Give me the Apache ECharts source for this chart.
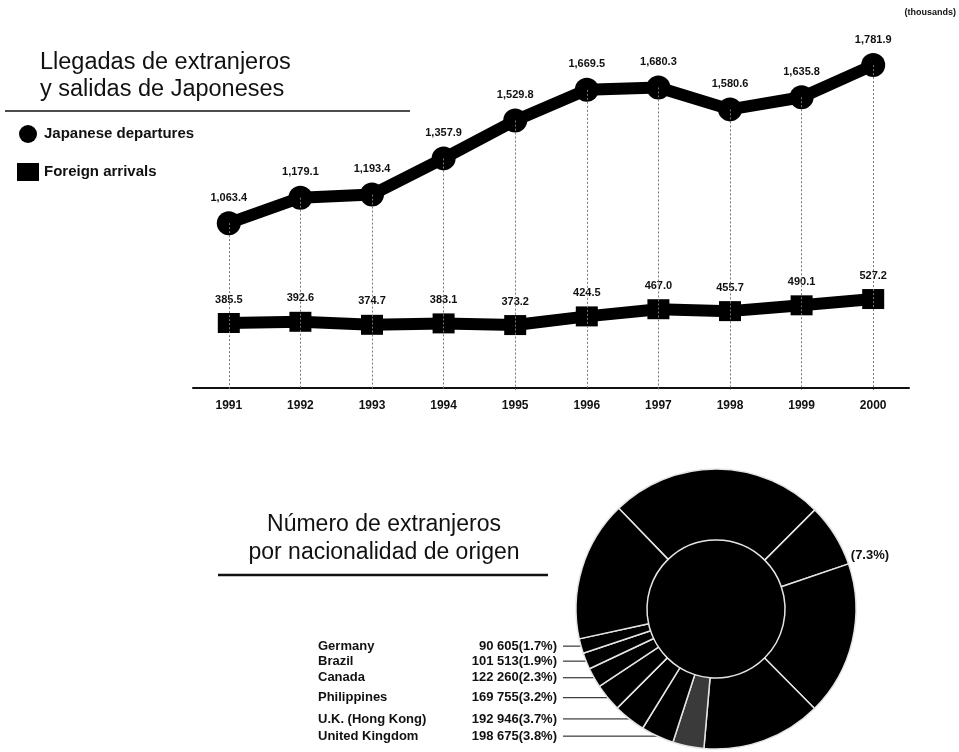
<!DOCTYPE html>
<html>
<head>
  <meta charset="utf-8">
  <title>Llegadas de extranjeros y salidas de Japoneses</title>
  <script src="https://cdn.jsdelivr.net/npm/echarts@6/dist/echarts.min.js"></script>
  <style>
    body { margin: 0; background: #fff; }
    #main { width: 959px; height: 752px; }
  </style>
</head>
<body>
  <div id="main"></div>
  <script>
    // line chart data (thousands)
    var years = ['1991', '1992', '1993', '1994', '1995', '1996', '1997', '1998', '1999', '2000'];
    var departures = [1063.4, 1179.1, 1193.4, 1357.9, 1529.8, 1669.5, 1680.3, 1580.6, 1635.8, 1781.9];
    var arrivals = [385.5, 392.6, 374.7, 383.1, 373.2, 424.5, 467.0, 455.7, 490.1, 527.2];

    // donut data, clockwise from the upper-left separator
    var pieNames = ['s1', 's2', 's3', 's4', 's5', 'United Kingdom', 'U.K. (Hong Kong)', 'Philippines', 'Canada', 'Brazil', 'Germany', 's12'];
    var piePct = [24.7, 7.3, 17.8, 13.8, 3.6, 3.8, 3.7, 3.2, 2.3, 1.9, 1.7, 16.2];
    var pieCounts = [null, null, null, null, null, 198675, 192946, 169755, 122260, 101513, 90605, null];

    var font = '"Liberation Sans", Arial, Helvetica, sans-serif';

    function fmtComma(v) {
      var s = v.toFixed(1).split('.');
      return s[0].replace(/\B(?=(\d{3})+(?!\d))/g, ',') + '.' + s[1];
    }
    function fmtSpace(n) {
      return String(n).replace(/\B(?=(\d{3})+(?!\d))/g, ' ');
    }

    // the two lines sit on separate (hidden) scales, like the broken axis of the original
    var depMin = 305, depMax = 1896;
    var arrMin = -11, arrMax = 2060;

    var myChart = echarts.init(document.getElementById('main'));

    var option = {
      backgroundColor: '#fff',
      animation: false,
      textStyle: { fontFamily: font },
      legend: {
        data: [
          { name: 'Japanese departures', icon: 'circle' },
          { name: 'Foreign arrivals', icon: 'rect' }
        ],
        orient: 'vertical',
        left: 12,
        top: 120,
        itemWidth: 22,
        itemHeight: 18,
        itemGap: 20,
        selectedMode: false,
        textStyle: { fontSize: 15, fontWeight: 'bold', color: '#111', fontFamily: font }
      },
      grid: { left: 193, right: 50, top: 40, bottom: 362 },
      xAxis: {
        type: 'category',
        data: years,
        boundaryGap: true,
        axisLine: { lineStyle: { color: '#111', width: 2 } },
        axisTick: { show: false },
        axisLabel: { color: '#111', fontSize: 12, fontWeight: 'bold', margin: 10, fontFamily: font }
      },
      yAxis: [
        { type: 'value', min: depMin, max: depMax, show: false, splitLine: { show: false } },
        { type: 'value', min: arrMin, max: arrMax, show: false, splitLine: { show: false } }
      ],
      series: [
        {
          name: 'drop',
          type: 'line',
          yAxisIndex: 0,
          z: 1,
          silent: true,
          symbol: 'none',
          lineStyle: { opacity: 0 },
          data: departures,
          markLine: {
            silent: true,
            symbol: ['none', 'none'],
            label: { show: false },
            lineStyle: { color: '#777', width: 1, type: [2, 2] },
            data: departures.map(function (v, i) {
              return [{ coord: [years[i], v] }, { coord: [years[i], depMin] }];
            })
          }
        },
        {
          name: 'Japanese departures',
          type: 'line',
          yAxisIndex: 0,
          z: 3,
          data: departures,
          symbol: 'circle',
          symbolSize: 24,
          itemStyle: { color: '#000' },
          lineStyle: { color: '#000', width: 12 },
          label: {
            show: true,
            position: 'top',
            distance: 8,
            color: '#111',
            fontSize: 11,
            fontWeight: 'bold',
            fontFamily: font,
            formatter: function (p) { return fmtComma(p.value); }
          }
        },
        {
          name: 'Foreign arrivals',
          type: 'line',
          yAxisIndex: 1,
          z: 3,
          data: arrivals,
          symbol: 'rect',
          symbolSize: [22, 20],
          itemStyle: { color: '#000' },
          lineStyle: { color: '#000', width: 12 },
          label: {
            show: true,
            position: 'top',
            distance: 8,
            color: '#111',
            fontSize: 11,
            fontWeight: 'bold',
            fontFamily: font,
            formatter: function (p) { return p.value.toFixed(1); }
          }
        },
        {
          name: 'core',
          type: 'pie',
          center: [716, 609],
          radius: [0, 69],
          silent: true,
          z: 1,
          label: { show: false },
          labelLine: { show: false },
          data: [{ name: 'total', value: piePct.reduce(function (a, b) { return a + b; }, 0), itemStyle: { color: '#000' } }]
        },
        {
          name: 'nacionalidad',
          type: 'pie',
          center: [716, 609],
          radius: [69, 140],
          startAngle: 134,
          clockwise: true,
          silent: true,
          z: 2,
          itemStyle: { color: '#000', borderColor: '#e4e4e4', borderWidth: 1.5 },
          label: {
            show: true,
            position: 'outside',
            alignTo: 'edge',
            edgeDistance: 318,
            distanceToLabelLine: 6,
            color: '#111',
            fontFamily: font,
            fontSize: 13,
            fontWeight: 'bold',
            formatter: function (p) {
              var i = p.dataIndex;
              if (pieCounts[i] == null) return '(' + piePct[i].toFixed(1) + '%)';
              return '{n|' + p.name + '}{v|' + fmtSpace(pieCounts[i]) + '(' + piePct[i].toFixed(1) + '%)}';
            },
            rich: {
              n: { width: 121, align: 'left', fontSize: 13, fontWeight: 'bold', fontFamily: font, color: '#111' },
              v: { width: 118, align: 'right', fontSize: 13, fontWeight: 'bold', fontFamily: font, color: '#111' }
            }
          },
          labelLine: { show: true, length: 0, length2: 10, lineStyle: { color: '#111', width: 1 } },
          labelLayout: function (params) {
            if (params.dataIndex === 1) return { dy: 20 };
          },
          data: pieNames.map(function (name, i) {
            var labelled = pieCounts[i] != null || i === 1;
            var item = {
              name: name,
              value: piePct[i],
              itemStyle: { color: i === 4 ? '#3a3a3a' : '#000' },
              label: { show: labelled },
              labelLine: { show: pieCounts[i] != null }
            };
            if (i === 1) item.label.alignTo = 'none';
            return item;
          })
        }
      ],
      graphic: [
        {
          type: 'text', left: 40, top: 49,
          style: { text: 'Llegadas de extranjeros\ny salidas de Japoneses', font: '23.5px ' + font, fill: '#111', lineHeight: 27 }
        },
        {
          type: 'line', shape: { x1: 5, y1: 111, x2: 410, y2: 111 },
          style: { stroke: '#111', lineWidth: 1.5 }
        },
        {
          type: 'text', right: 3, top: 8,
          style: { text: '(thousands)', font: 'bold 9px ' + font, fill: '#111' }
        },
        {
          type: 'text', x: 384, y: 511,
          style: { text: 'Número de extranjeros\npor nacionalidad de origen', font: '23px ' + font, fill: '#111', lineHeight: 28, textAlign: 'center' }
        },
        {
          type: 'line', shape: { x1: 218, y1: 575, x2: 548, y2: 575 },
          style: { stroke: '#111', lineWidth: 2.5 }
        }
      ]
    };

    myChart.setOption(option);
  </script>
</body>
</html>
